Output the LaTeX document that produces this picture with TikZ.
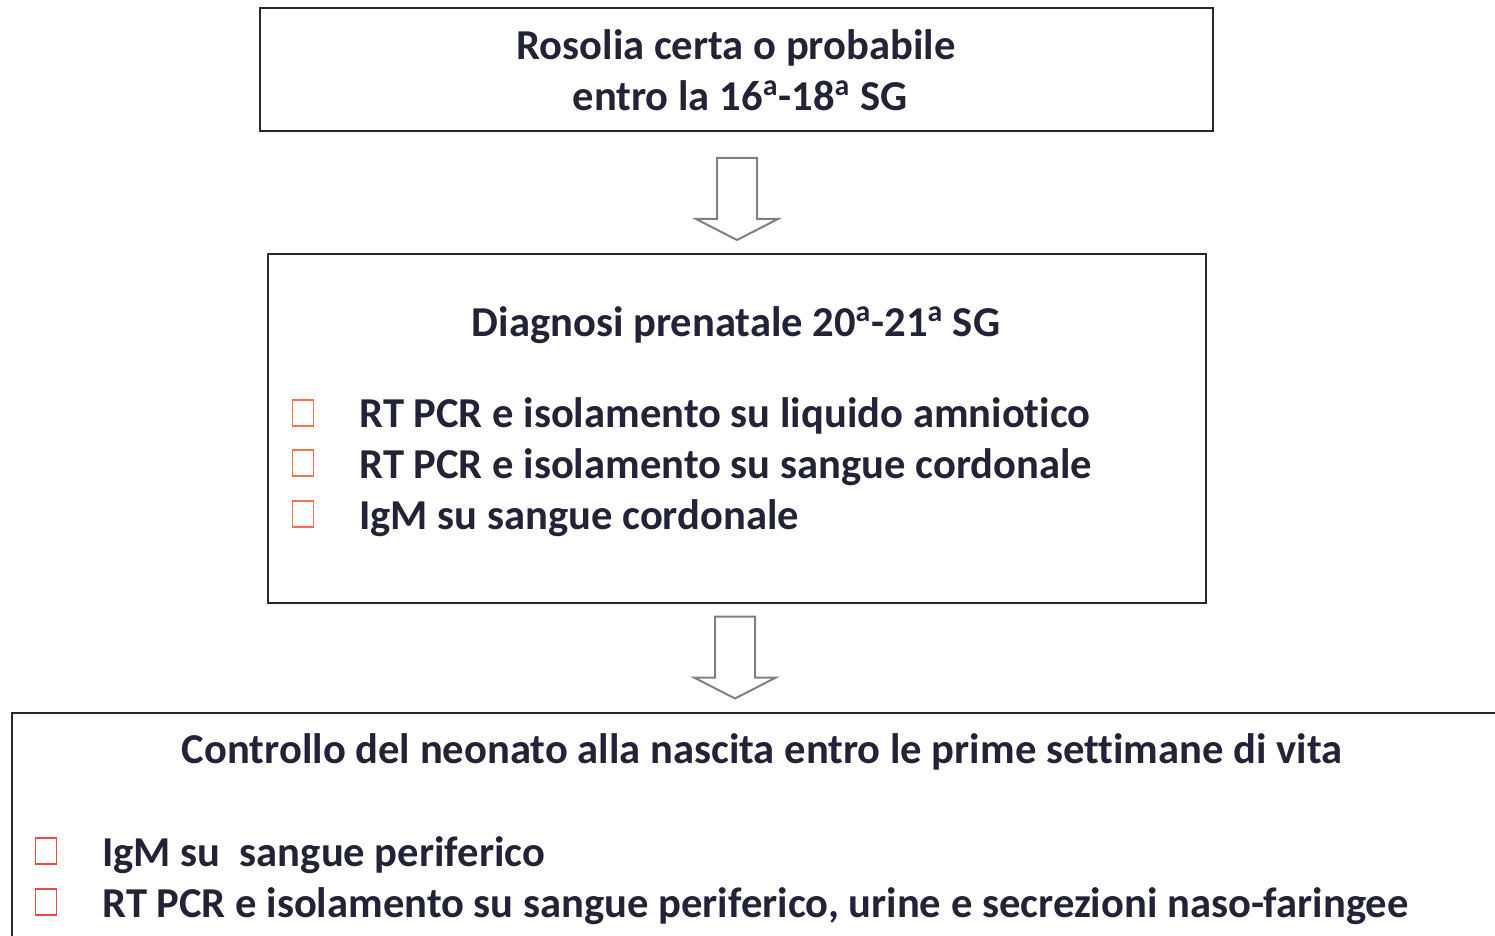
\documentclass[tikz,border=0pt]{standalone}
\usepackage{fontspec}
\setmainfont[RawFeature=-liga]{Carlito}
\usetikzlibrary{positioning,calc,fit}
\definecolor{testo}{RGB}{35,35,55}
\definecolor{bordo}{RGB}{40,40,40}
\definecolor{grigiofreccia}{RGB}{128,128,128}
\definecolor{quadro}{RGB}{248,112,80}
\definecolor{quadrorosso}{RGB}{240,72,72}
\newcommand{\ord}{\textsuperscript{a}}

\begin{document}
\begin{tikzpicture}[
  x=0.5pt, y=-0.5pt,
  every node/.style={font=\bfseries\fontsize{21.3}{25.5}\selectfont, text=testo},
  box/.style={draw=bordo, line width=1pt, inner sep=0pt},
  voce/.style={anchor=base west, inner sep=0pt},
  titolo/.style={anchor=base, inner sep=0pt},
  quadretto/.style={draw=quadro, line width=0.6pt, minimum width=10.5pt,
                    minimum height=13pt, inner sep=0pt},
  freccia/.style={draw=grigiofreccia, fill=white, line width=1pt, line join=miter}
]
  \useasboundingbox (0,0) rectangle (1495,936);
  \clip (0,0) rectangle (1495,936);

  % boxes
  \node[box, fit={(260,8) (1213,131)}]   (rosolia)   {};
  \node[box, fit={(268,254) (1206,603)}] (diagnosi)  {};
  \node[box, fit={(12,713) (1540,990)}]  (controllo) {};

  % first box
  \node[titolo] (rosolia1) at (736,59.5)  {Rosolia certa o probabile};
  \node[titolo] (rosolia2) at (740,110.5) {entro la 16\ord-18\ord\ SG};

  % second box
  \node[titolo] (diagtit) at (736,336.5) {Diagnosi prenatale 20\ord-21\ord\ SG};
  \node[voce] (voce1) at (359,428) {RT PCR e isolamento su liquido amniotico};
  \node[voce] (voce2) at (359,478) {RT PCR e isolamento su sangue cordonale};
  \node[voce] (voce3) at (359,529) {IgM su sangue cordonale};
  \node[quadretto] (q1) at ($(voce1.base west)+(-56,-15)$) {};
  \node[quadretto] (q2) at ($(voce2.base west)+(-56,-15)$) {};
  \node[quadretto] (q3) at ($(voce3.base west)+(-56,-15)$) {};

  % third box
  \node[titolo] (contrtit) at (762,763.5)
    {Controllo del neonato alla nascita entro le prime settimane di vita};
  \node[voce] (voce4) at (102,866) {IgM su\ \ sangue periferico};
  \node[voce] (voce5) at (102,917)
    {RT PCR e isolamento su sangue periferico, urine e secrezioni naso-faringee};
  \node[quadretto, draw=quadrorosso] (q4) at ($(voce4.base west)+(-56,-15)$) {};
  \node[quadretto, draw=quadrorosso] (q5) at ($(voce5.base west)+(-56,-15)$) {};

  % block arrows between the boxes
  \coordinate (f1) at ($(rosolia.south)+(0.5,67)$);
  \coordinate (f2) at ($(diagnosi.south)+(-2,53.5)$);
  \foreach \f in {f1,f2}
    \draw[freccia] ($(\f)+(-20,-41)$) -- ($(\f)+(20,-41)$) -- ($(\f)+(20,20)$)
      -- ($(\f)+(41,20)$) -- ($(\f)+(0,41)$) -- ($(\f)+(-41,20)$)
      -- ($(\f)+(-20,20)$) -- cycle;
\end{tikzpicture}
\end{document}
